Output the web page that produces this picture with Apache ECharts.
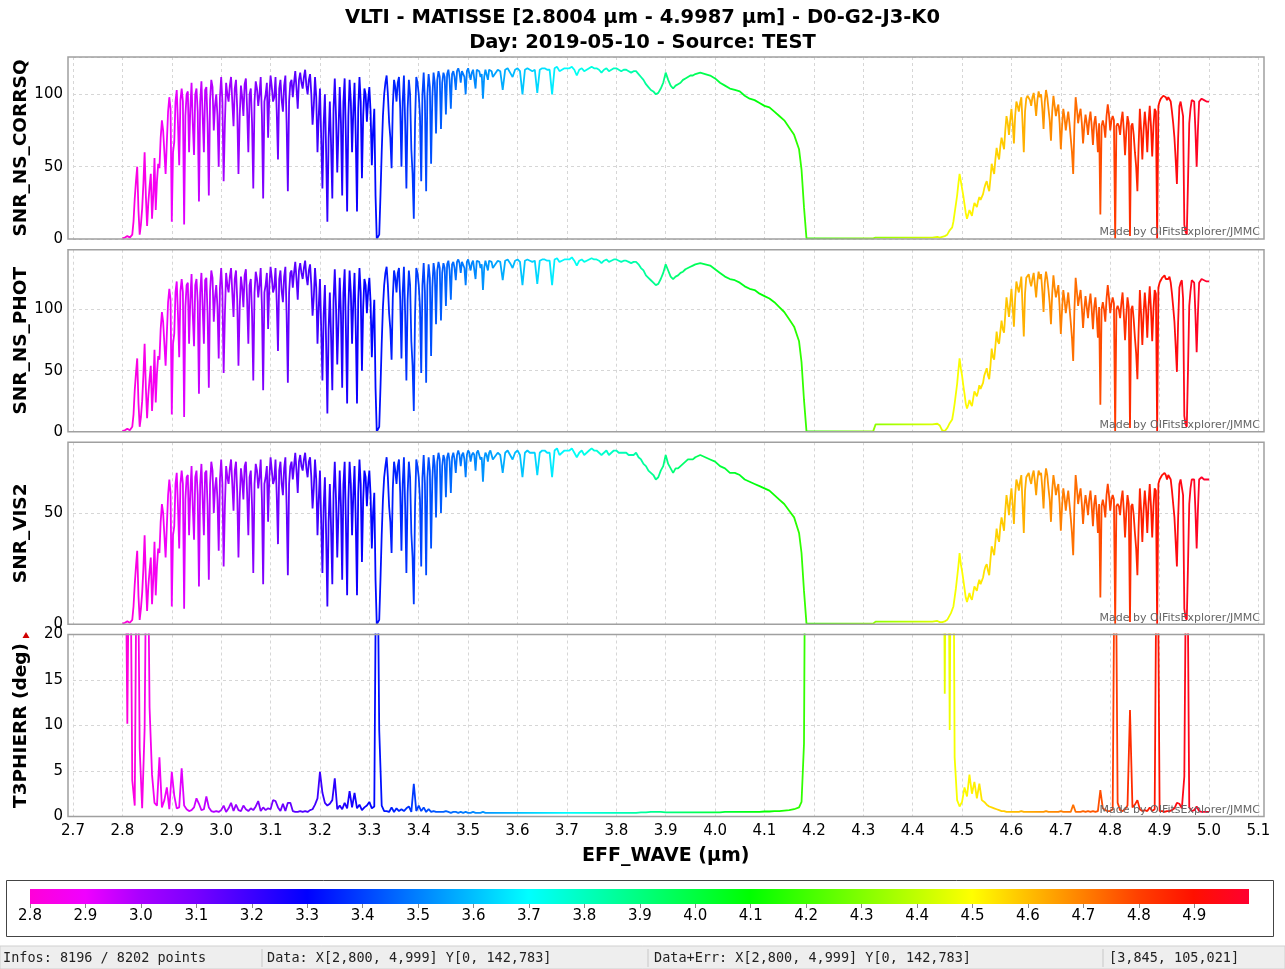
<!DOCTYPE html>
<html><head><meta charset="utf-8">
<script src="https://cdn.jsdelivr.net/npm/echarts@6/dist/echarts.min.js"></script>
<style>html,body{margin:0;padding:0;background:#fff}#c{width:1285px;height:969px}</style>
</head><body><div id="c"></div>
<script>
const TITLE_1 = 'VLTI - MATISSE [2.8004 µm - 4.9987 µm] - D0-G2-J3-K0';
const TITLE_2 = 'Day: 2019-05-10 - Source: TEST';
const PANEL_NAMES = ['SNR_NS_CORRSQ', 'SNR_NS_PHOT', 'SNR_VIS2', 'T3PHIERR (deg)'];
const X_NAME = 'EFF_WAVE (µm)';
const CREDIT = 'Made by OIFitsExplorer/JMMC';
const STATUS_TEXTS = ['Infos: 8196 / 8202 points', 'Data: X[2,800, 4,999] Y[0, 142,783]', 'Data+Err: X[2,800, 4,999] Y[0, 142,783]', '[3,845, 105,021]'];

// wavelengths (µm), main sampling shared by all four panels
const WAVE = [
2.8,2.805,2.81,2.815,2.82,2.825,2.83,2.835,2.84,2.845,
2.85,2.855,2.86,2.865,2.87,2.875,2.88,2.885,2.89,2.895,
2.9,2.905,2.91,2.915,2.92,2.925,2.93,2.935,2.94,2.945,
2.95,2.955,2.96,2.965,2.97,2.975,2.98,2.985,2.99,2.995,
3.0,3.005,3.01,3.015,3.02,3.025,3.03,3.035,3.04,3.045,
3.05,3.055,3.06,3.065,3.07,3.075,3.08,3.085,3.09,3.095,
3.1,3.105,3.11,3.115,3.12,3.125,3.13,3.135,3.14,3.145,
3.15,3.155,3.16,3.165,3.17,3.175,3.18,3.185,3.19,3.195,
3.2,3.205,3.21,3.215,3.22,3.225,3.23,3.235,3.24,3.245,
3.25,3.255,3.26,3.265,3.27,3.275,3.28,3.285,3.29,3.295,
3.3,3.305,3.31,3.315,3.32,3.325,3.33,3.335,3.34,3.345,
3.35,3.355,3.36,3.365,3.37,3.375,3.38,3.385,3.39,3.395,
3.4,3.405,3.41,3.415,3.42,3.425,3.43,3.435,3.44,3.445,
3.45,3.455,3.46,3.465,3.47,3.475,3.48,3.485,3.49,3.495,
3.5,3.505,3.51,3.515,3.52,3.525,3.53,3.535,3.54,3.545,
3.55,
3.56,3.57,3.58,3.59,3.6,3.61,3.62,3.63,3.64,3.65,
3.66,3.67,3.68,3.69,3.7,3.71,3.72,3.73,3.74,3.75,
3.76,3.77,3.78,3.79,3.8,3.81,3.82,3.83,3.84,3.85,
3.86,3.87,3.88,3.89,3.9,3.91,3.92,3.93,3.94,3.95,
3.96,3.97,3.98,3.99,4.0,4.01,4.02,4.03,4.04,4.05,
4.06,4.07,4.08,4.09,4.1,4.11,4.12,4.13,4.14,4.15,
4.16,4.17,4.175,4.18,4.185,
4.19,4.22,4.26,4.3,4.32,4.325,4.33,4.36,4.4,4.44,4.45,
4.455,4.46,4.465,4.47,4.475,4.48,4.485,4.49,4.495,4.5,
4.505,4.51,4.515,4.52,4.525,4.53,4.535,4.54,4.545,4.55,
4.555,4.56,4.565,4.57,4.575,4.58,4.585,4.59,4.595,4.6,
4.605,4.61,4.615,4.62,4.625,4.63,4.635,4.64,4.645,4.65,
4.655,4.66,4.665,4.67,4.675,4.68,4.685,4.69,4.695,4.7,
4.705,4.71,4.715,4.72,4.725,4.73,4.735,4.74,4.745,4.75,
4.755,4.76,4.765,4.77,4.775,4.78,4.785,4.79,4.795,4.8,
4.805,4.81,4.815,4.82,4.825,4.83,4.835,4.84,4.845,4.85,
4.855,4.86,4.865,4.87,4.875,4.88,4.885,4.89,4.895,4.9,
4.905,4.91,4.915,4.92,4.925,4.93,4.935,4.94,4.945,4.95,
4.955,4.96,4.965,4.97,4.975,4.98,4.985,4.99,4.995,5.0
];

// extra in-between wavelengths read in the dense (spiky) parts of the three SNR panels
const WAVE_FINE = [
2.8025,2.8075,2.8125,2.8175,2.8225,2.8275,2.8325,2.8375,2.8425,2.8475,
2.8525,2.8575,2.8625,2.8675,2.8725,2.8775,2.8825,2.8875,2.8925,2.8975,
2.9025,2.9075,2.9125,2.9175,2.9225,2.9275,2.9325,2.9375,2.9425,2.9475,
2.9525,2.9575,2.9625,2.9675,2.9725,2.9775,2.9825,2.9875,2.9925,2.9975,
3.0025,3.0075,3.0125,3.0175,3.0225,3.0275,3.0325,3.0375,3.0425,3.0475,
3.0525,3.0575,3.0625,3.0675,3.0725,3.0775,3.0825,3.0875,3.0925,3.0975,
3.1025,3.1075,3.1125,3.1175,3.1225,3.1275,3.1325,3.1375,3.1425,3.1475,
3.1525,3.1575,3.1625,3.1675,3.1725,3.1775,3.1825,3.1875,3.1925,3.1975,
3.2025,3.2075,3.2125,3.2175,3.2225,3.2275,3.2325,3.2375,3.2425,3.2475,
3.2525,3.2575,3.2625,3.2675,3.2725,3.2775,3.2825,3.2875,3.2925,3.2975,
3.3025,3.3075,3.3125,3.3175,3.3225,3.3275,3.3325,3.3375,3.3425,3.3475,
3.3525,3.3575,3.3625,3.3675,3.3725,3.3775,3.3825,3.3875,3.3925,3.3975,
3.4025,3.4075,3.4125,3.4175,3.4225,3.4275,3.4325,3.4375,3.4425,3.4475,
3.4525,3.4575,3.4625,3.4675,3.4725,3.4775,3.4825,3.4875,3.4925,3.4975,
3.5025,3.5075,3.5125,3.5175,3.5225,3.5275,3.5325,3.5375,3.5425,3.5475,
3.565,3.575,3.585,3.595,3.605,3.615,3.625,3.635,3.645,3.655,
3.665,3.675,3.685,3.695,3.705,3.715,3.725,3.735,3.745,3.755,
3.765,3.775,3.785,3.795,3.805,3.815,3.825,3.835,3.845,3.855,
3.865,3.875,3.885,3.895,3.905,3.915,3.925,3.935,3.945,3.955,
4.4575,4.4625,4.4675,4.4725,4.4775,4.4825,4.4875,4.4925,4.4975,4.5025,
4.5075,4.5125,4.5175,4.5225,4.5275,4.5325,4.5375,4.5425,4.5475,4.5525,
4.5575,4.5625,4.5675,4.5725,4.5775,4.5825,4.5875,4.5925,4.5975,4.6025,
4.6075,4.6125,4.6175,4.6225,4.6275,4.6325,4.6375,4.6425,4.6475,4.6525,
4.6575,4.6625,4.6675,4.6725,4.6775,4.6825,4.6875,4.6925,4.6975,4.7025,
4.7075,4.7125,4.7175,4.7225,4.7275,4.7325,4.7375,4.7425,4.7475,4.7525,
4.7575,4.7625,4.7675,4.7725,4.7775,4.7825,4.7875,4.7925,4.7975,4.8025,
4.8075,4.8125,4.8175,4.8225,4.8275,4.8325,4.8375,4.8425,4.8475,4.8525,
4.8575,4.8625,4.8675,4.8725,4.8775,4.8825,4.8875,4.8925,4.8975,4.9025,
4.9075,4.9125,4.9175,4.9225,4.9275,4.9325,4.9375,4.9425,4.9475,4.9525,
4.9575,4.9625,4.9675,4.9725,4.9775,4.9825,4.9875,4.9925,4.9975
];

const SNR_NS_CORRSQ = [
0.5,1,2,1,3,28,50,3,21,60,
9,36,14,56,40,49,82,60,67,98,
12,67,103,51,104,10,100,60,108,58,
104,26,109,60,105,30,110,75,100,50,
112,40,108,95,112,78,110,45,106,85,
111,60,104,35,109,92,112,28,100,70,
113,95,112,55,110,88,113,33,108,98,
116,90,115,104,117,100,114,79,112,60,
104,35,100,12,95,28,111,46,105,30,
111,19,110,60,108,19,112,42,104,81,
105,51,90,0,3,60,100,113,81,49,
110,95,112,50,113,35,110,62,14,112,
100,40,115,33,114,52,115,73,116,76,
115,86,117,90,116,103,118,108,117,100,
118,110,117,104,118,112,97,117,110,118,
112,
117,103,118,112,118,100,118,116,101,118,
117,100,119,117,118,119,113,118,117,119,
118,115,118,117,118,116,117,115,116,112,
107,103,100,104,115,106,106,108,111,113,
114,115,114,113,111,108,106,104,103,102,
99,97,96,94,92,91,88,85,82,77,
72,62,48,22,0.5,
0.4,0.4,0.4,0.4,0.4,1,1,1,1,1,1.5,
1,1.5,2,3,6,8,18,30,45,35,
24,14,20,16,25,22,29,26,35,40,
33,52,45,63,55,70,62,85,72,90,
66,95,88,98,60,97,100,92,101,85,
102,100,76,103,90,68,99,85,93,62,
90,75,88,70,45,98,80,90,66,86,
72,88,65,85,60,17,82,70,93,75,
85,0,80,72,88,58,85,2,80,60,
33,90,55,88,60,92,57,90,0,95,
98,100,96,99,88,70,38,92,96,10,
3,80,96,95,50,95,97,96,95,95
];
const SNR_NS_CORRSQ_FINE = [
0.6,1.5,3,1,12,40,20,10,38,30,
25,45,30,20,52,70,75,45,88,90,
60,95,80,96,95,85,102,90,80,100,
88,95,85,103,80,96,105,92,85,98,
95,80,100,106,95,104,90,85,98,107,
90,100,80,95,104,100,85,95,108,100,
105,98,88,104,96,106,80,95,110,108,
104,110,108,112,106,110,100,92,98,85,
70,80,60,70,65,90,85,75,80,95,
70,85,95,88,70,90,95,85,100,96,
88,75,30,1,30,85,108,100,70,92,
105,108,90,95,80,90,100,45,80,108,
85,100,95,100,105,98,108,110,112,108,
112,114,110,114,112,116,115,116,112,116,
117,115,116,117,116,114,112,116,117,116,
116,117,115,117,116,117,117,117,117,118,
117,118,116,118,118,117,117,116,118,118,
117,117,116,118,117,117,116,116,114,110,
105,102,101,108,110,104,107,110,112,113,
1.2,1.8,2.5,4,7,12,24,38,40,30,
18,17,18,21,24,26,27,31,38,36,
42,48,55,58,64,66,75,80,82,80,
85,92,94,80,88,99,96,98,94,96,
98,90,95,98,82,88,92,90,80,78,
84,82,80,60,78,90,86,80,78,80,
82,78,80,75,80,78,78,85,86,82,
82,78,78,82,75,74,80,78,72,50,
65,75,75,78,80,78,78,88,92,97,
99,98,98,95,80,55,70,95,85,5,
40,90,96,75,75,96,97,96,95
];

const SNR_NS_PHOT = [
0.5,1.2,2.5,1.2,4,34,60,4,25,72,
11,43,17,67,48,59,98,72,80,117,
14,80,123,61,125,12,120,72,129,70,
125,31,130,72,126,36,132,90,120,60,
134,48,130,114,134,94,132,54,127,102,
133,72,125,42,131,110,134,34,120,84,
135,114,134,66,132,106,135,40,130,118,
139,108,138,125,140,120,137,95,134,72,
125,42,120,15,114,34,133,55,126,36,
133,23,132,72,130,23,134,50,125,97,
126,61,108,0,4,72,120,135,97,59,
132,114,134,60,135,42,132,74,17,134,
120,48,138,40,137,62,138,88,139,91,
138,103,140,108,139,124,141,130,140,120,
141,132,140,125,141,134,116,140,132,141,
134,
140,124,141,134,141,120,141,139,121,141,
140,120,142,140,141,142.7,136,141,140,142,
141,138,141,140,141,139,140,138,139,134,
128,124,120,125,137,127,127,130,133,135,
137,138,137,136,133,130,127,125,124,122,
119,117,116,113,111,109,106,102,98,92,
86,74,57,26,0.5,
0.3,0.3,0.3,0.3,0.3,6,6,6,6,6,6.5,
5,1,0.5,3,7,10,23,39,60,46,
31,19,26,21,33,29,38,34,46,52,
43,68,59,82,72,91,81,110,94,117,
86,123,114,127,78,126,129,119,130,110,
131,129,98,131,116,88,128,110,120,80,
116,97,114,90,58,126,103,116,85,111,
93,113,84,110,77,22,106,90,120,97,
110,0,103,93,114,75,110,3,103,77,
43,116,71,114,77,119,74,116,0,122,
126,128,124,127,113,90,49,118,124,13,
4,103,124,122,65,122,125,124,123,123
];
const SNR_NS_PHOT_FINE = [
0.7,1.8,3.6,1.2,14,48,24,12,46,36,
30,54,36,24,62,84,90,54,106,108,
72,114,96,115,114,102,122,108,96,120,
106,114,102,124,96,115,126,110,102,118,
114,96,120,127,114,125,108,102,118,128,
108,120,96,114,125,120,102,114,130,120,
126,118,106,125,115,127,96,114,132,130,
125,132,130,134,127,132,120,110,118,102,
84,96,72,84,78,108,102,90,96,114,
84,102,114,106,84,108,114,102,120,115,
106,90,36,1,36,102,130,120,84,110,
126,130,108,114,96,108,120,54,96,130,
102,120,114,120,126,118,130,132,134,130,
134,137,132,137,134,139,138,139,134,139,
140,138,139,140,139,137,134,139,140,139,
139,140,138,140,139,140,140,140,140,141,
140,141,139,141,141,140,140,139,141,141,
140,140,139,141,140,140,139,139,137,132,
126,122,121,130,132,125,128,131,134,136,
3,0.7,1.5,5,8.5,16,31,50,52,38,
23,22,23,27,31,33,35,40,49,46,
54,61,70,74,82,84,96,102,105,102,
109,118,120,102,113,127,123,125,120,123,
125,115,122,125,105,113,118,115,102,100,
108,105,102,77,100,115,110,102,100,102,
105,100,102,96,102,100,100,109,110,105,
105,100,100,105,96,95,102,100,92,64,
83,96,96,100,102,100,100,113,118,124,
127,125,125,122,102,70,90,122,109,6,
51,115,123,96,96,123,124,123,122
];

const SNR_VIS2 = [
0.3,0.7,1.3,0.7,2,18,33,2,14,40,
6,24,9,37,26,32,54,40,44,65,
8,44,68,34,69,7,66,40,71,38,
69,17,72,40,69,20,73,50,66,33,
74,26,71,63,74,51,73,30,70,56,
73,40,69,23,72,61,74,18,66,46,
75,63,74,36,73,58,75,22,71,65,
77,59,76,69,77,66,75,52,74,40,
69,23,66,8,63,18,73,30,69,20,
73,13,73,40,71,13,74,28,69,53,
69,34,59,0,2,40,66,75,53,32,
73,63,74,33,75,23,73,41,9,74,
66,26,76,22,75,34,76,48,77,50,
76,57,77,59,77,68,78,71,77,66,
78,73,77,69,78,74,64,77,73,78,
74,
77,68,78,74,78,66,78,77,67,78,
77,66,79,77,78,79,75,78,77,79,
78,76,78,77,78,77,77,76,77,74,
71,68,65,69,76,70,70,71,73,74,
75,76,75,74,73,71,70,68,68,67,
65,64,63,62,61,60,58,56,54,51,
48,41,32,15,0.3,
0.3,0.3,0.3,0.3,0.3,1.2,1.2,1.2,1.2,1.2,1.5,
1,1,1.3,2,4,5.5,12,21,32,24,
16,10,14,11,17,15,20,18,24,27,
22,35,31,43,37,48,42,58,49,61,
45,65,60,67,41,66,68,63,69,58,
69,68,52,70,61,46,67,58,63,42,
61,51,60,48,31,67,54,61,45,58,
49,60,44,58,41,12,56,48,63,51,
58,0,54,49,60,39,58,1,54,41,
22,61,37,60,41,63,39,61,0,65,
67,68,65,67,60,48,26,63,65,7,
2,54,65,65,34,65,66,65,65,65
];
const SNR_VIS2_FINE = [
0.4,1,2,0.7,8,26,13,7,25,20,
17,30,20,13,34,46,50,30,58,59,
40,63,53,63,63,56,67,59,53,66,
58,63,56,68,53,63,69,61,56,65,
63,53,66,70,63,69,59,56,65,71,
59,66,53,63,69,66,56,63,71,66,
69,65,58,69,63,70,53,63,73,71,
69,73,71,74,70,73,66,61,65,56,
46,53,40,46,43,59,56,50,53,63,
46,56,63,58,46,59,63,56,66,63,
58,50,20,1,20,56,71,66,46,61,
69,71,59,63,53,59,66,30,53,71,
56,66,63,66,69,65,71,73,74,71,
74,75,73,75,74,76,76,76,74,76,
77,76,76,77,76,75,74,76,77,76,
76,77,76,77,76,77,77,77,77,78,
77,78,76,78,78,77,77,76,78,78,
77,77,76,78,77,77,76,76,75,72,
69,67,66,71,72,68,70,72,74,74,
0.8,1,1.6,3,5,8,16,26,27,20,
12,12,12,14,16,18,18,21,26,24,
29,33,37,39,44,45,51,54,56,54,
58,63,64,54,60,67,65,67,64,65,
67,61,65,67,56,60,63,61,54,53,
57,56,54,41,53,61,58,54,53,54,
56,53,54,51,54,53,53,58,58,56,
56,53,53,56,51,50,54,53,49,34,
44,51,51,53,54,53,53,60,63,66,
67,67,67,65,54,37,48,65,58,3,
27,61,65,51,51,65,66,65,65
];

const T3PHIERR = [
40,40,10.2,40,4,1.2,40,7.5,0.9,9.6,
40,12,4.6,1.5,1.2,6.5,1.0,1.8,3.2,0.8,
4.9,2.3,0.9,1.0,5.3,1.2,0.8,0.6,0.7,1.0,
2.0,1.4,0.7,0.8,2.2,1.0,0.6,0.5,0.6,0.5,
0.7,1.2,0.5,0.9,1.5,0.6,1.3,0.7,0.6,1.2,
0.8,0.6,0.9,0.7,1.1,1.7,0.6,1.0,0.7,0.9,
0.8,1.8,1.7,1.0,0.6,1.4,0.6,1.5,1.5,0.6,
0.5,0.5,0.6,0.5,0.6,0.5,0.7,0.8,1.3,2.0,
4.9,2.6,1.5,1.2,1.4,1.8,4.2,0.8,1.2,0.8,
1.5,0.9,2.8,1.0,2.6,0.9,1.3,0.7,1.0,1.2,
1.6,0.9,1.1,40,9.5,1.2,0.6,0.6,0.5,1.0,
0.5,0.9,0.6,0.8,0.6,0.9,1.1,0.5,3.6,0.6,
1.2,0.6,1.0,0.5,0.8,0.5,0.6,0.5,0.5,0.5,
0.5,0.6,0.5,0.4,0.5,0.5,0.4,0.5,0.4,0.5,
0.4,0.4,0.5,0.4,0.4,0.4,0.5,0.4,0.4,0.4,
0.4,
0.4,0.4,0.4,0.4,0.4,0.4,0.4,0.4,0.4,0.4,
0.4,0.4,0.4,0.4,0.4,0.4,0.4,0.4,0.4,0.4,
0.4,0.4,0.4,0.4,0.4,0.4,0.4,0.4,0.4,0.45,
0.45,0.5,0.5,0.5,0.45,0.45,0.45,0.45,0.45,0.45,
0.45,0.45,0.45,0.45,0.45,0.45,0.5,0.5,0.5,0.5,
0.5,0.5,0.5,0.5,0.55,0.55,0.6,0.6,0.65,0.7,
0.8,1.0,1.6,8,60,
60,60,60,60,60,60,60,60,60,60,60,
60,60,13.5,60,9.5,60,6.5,1.8,1.1,1.6,
3.2,2.2,4.6,2.5,3.8,2.0,3.6,1.8,1.6,1.3,
1.1,1.0,0.9,0.8,0.7,0.6,0.6,0.5,0.5,0.5,
0.5,0.5,0.5,0.6,0.5,0.5,0.5,0.5,0.5,0.5,
0.5,0.5,0.5,0.6,0.5,0.5,0.5,0.5,0.5,0.6,
0.5,0.5,0.5,0.5,1.3,0.5,0.5,0.5,0.6,0.5,
0.6,0.5,0.6,0.5,0.6,2.9,0.9,0.7,0.6,0.6,
0.8,40,1.5,0.7,0.6,0.8,1.2,11.7,1.0,1.3,
1.8,0.8,0.6,0.7,0.6,1.0,0.6,0.8,40,0.6,
0.6,0.5,0.6,0.6,0.7,0.9,1.5,1.4,0.9,4.4,
40,1.0,0.6,0.7,1.1,0.6,0.5,0.5,0.5,0.5
];

const Y_MAX = [125.8, 149, 81.7, 20];
const Y_STEP = [50, 50, 50, 5];
// colour map 2.8 .. 5.0 µm, one colour every 0.1 µm
const CMAP = ['#ff00d8','#f000ff','#a800ff','#7800ff','#3c00ff','#0000ff','#0040ff','#0080ff','#00bfff','#00ffff',
              '#00ffbf','#00ff80','#00ff40','#00ff00','#40ff00','#80ff00','#bfff00','#ffff00','#ffbf00','#ff8000',
              '#ff4000','#ff1000','#ff0030'];

const SERIES = [
  [SNR_NS_CORRSQ, SNR_NS_CORRSQ_FINE],
  [SNR_NS_PHOT, SNR_NS_PHOT_FINE],
  [SNR_VIS2, SNR_VIS2_FINE],
  [T3PHIERR, null]
];

const FONT = 'DejaVu Sans';
const TOPS = [57, 249.7, 442.3, 634.5];
const PH = 182;
const GL = 73, GW = 1185.4;
const FL = 68, FR = 1264;

function buildPoints(main, fine) {
  const pts = WAVE.map((w, k) => [w, main[k]]);
  if (fine) WAVE_FINE.forEach((w, k) => pts.push([w, fine[k]]));
  pts.sort((a, b) => a[0] - b[0]);
  return pts;
}

const chart = echarts.init(document.getElementById('c'), null, {renderer: 'canvas'});

const grids = TOPS.map(t => ({left: GL, top: t, width: GW, height: PH, containLabel: false, outerBoundsMode: 'none'}));
grids.push({left: 30, top: 889, width: 1219, height: 15, containLabel: false, outerBoundsMode: 'none'});

const dash = {color: '#d6d6d6', width: 1, type: [3, 3]};
const xAxes = TOPS.map((t, i) => ({
  type: 'value', gridIndex: i, min: 2.7, max: 5.1, interval: 0.1,
  axisLine: {show: false}, axisTick: {show: false},
  axisLabel: {show: i === 3, formatter: v => v.toFixed(1), fontSize: 15, color: '#000', fontFamily: FONT, margin: 7},
  splitLine: {show: true, lineStyle: dash},
  name: i === 3 ? X_NAME : '', nameLocation: 'middle', nameGap: 30, nameMoveOverlap: false,
  nameTextStyle: {fontSize: 19, fontWeight: 'bold', color: '#000', fontFamily: FONT}
}));
xAxes.push({
  type: 'value', gridIndex: 4, min: 2.8, max: 4.9987, interval: 0.1,
  axisLine: {show: false},
  axisTick: {show: true, length: 4, lineStyle: {color: '#888'}},
  axisLabel: {formatter: v => v.toFixed(1), fontSize: 15, color: '#000', fontFamily: FONT, margin: 5, showMaxLabel: false},
  splitLine: {show: false}
});
const yAxes = TOPS.map((t, i) => ({
  type: 'value', gridIndex: i, min: 0, max: Y_MAX[i], interval: Y_STEP[i],
  axisLine: {show: false}, axisTick: {show: false},
  axisLabel: {fontSize: 15, color: '#000', fontFamily: FONT, margin: 10, showMaxLabel: i === 3},
  splitLine: {show: true, lineStyle: dash},
  name: PANEL_NAMES[i], nameLocation: 'middle', nameGap: 52, nameRotate: 90, nameMoveOverlap: false,
  nameTextStyle: {fontSize: 18.5, fontWeight: 'bold', color: '#000', fontFamily: FONT, verticalAlign: 'middle'}
}));
yAxes.push({type: 'value', gridIndex: 4, min: 0, max: 1, show: false});

const series = SERIES.map((pair, i) => ({
  type: 'line', xAxisIndex: i, yAxisIndex: i,
  data: buildPoints(pair[0], pair[1]),
  showSymbol: false, symbol: 'none', lineStyle: {width: 1.8}, clip: true, silent: true, animation: false
}));
series.push({type: 'line', xAxisIndex: 4, yAxisIndex: 4, data: [], silent: true});

const graphics = [];
TOPS.forEach((t, i) => {
  graphics.push({type: 'rect', z: 100, shape: {x: FL, y: t, width: FR - FL, height: PH},
    style: {fill: 'none', stroke: '#a0a0a0', lineWidth: 1.5}});
  graphics.push({type: 'text', z: 101, style: {text: CREDIT, x: 1260, y: t + PH - 1,
    textAlign: 'right', textVerticalAlign: 'bottom', align: 'right', verticalAlign: 'bottom',
    font: '11px "DejaVu Sans"', fill: '#666'}});
});
graphics.push({type: 'polygon', z: 101, shape: {points: [[22.5, 638], [29.5, 638], [26, 632]]}, style: {fill: '#d00000'}});
// colour bar
graphics.push({type: 'rect', z: 1, shape: {x: 6.5, y: 880.5, width: 1267, height: 56},
  style: {fill: 'none', stroke: '#444', lineWidth: 1}});
graphics.push({type: 'rect', z: 2, shape: {x: 30, y: 889, width: 1219, height: 15},
  style: {fill: new echarts.graphic.LinearGradient(0, 0, 1, 0, CMAP.map((c, i) => ({offset: i / (CMAP.length - 1), color: c})))}});
// status bar
graphics.push({type: 'rect', z: 1, shape: {x: 0, y: 946, width: 1285, height: 23}, style: {fill: '#eeeeee', stroke: '#d0d0d0', lineWidth: 1}});
[262, 648, 1103].forEach(x => graphics.push({type: 'line', z: 2, shape: {x1: x, y1: 949, x2: x, y2: 967}, style: {stroke: '#c8c8c8', lineWidth: 1}}));
[3, 267, 654, 1109].forEach((x, i) => graphics.push({type: 'text', z: 3, style: {text: STATUS_TEXTS[i], x: x, y: 958,
  textVerticalAlign: 'middle', verticalAlign: 'middle', font: '13.5px "DejaVu Sans Mono"', fill: '#222'}}));

chart.setOption({
  backgroundColor: '#fff',
  animation: false,
  title: [
    {text: TITLE_1, left: 'center', top: 3, textStyle: {fontSize: 19.5, fontWeight: 'bold', color: '#000', fontFamily: FONT}},
    {text: TITLE_2, left: 'center', top: 28, textStyle: {fontSize: 19.5, fontWeight: 'bold', color: '#000', fontFamily: FONT}}
  ],
  grid: grids,
  xAxis: xAxes,
  yAxis: yAxes,
  visualMap: [{type: 'continuous', show: false, dimension: 0, min: 2.8, max: 5.0, seriesIndex: [0, 1, 2, 3], inRange: {color: CMAP}}],
  series: series,
  graphic: {elements: graphics}
});
</script></body></html>
